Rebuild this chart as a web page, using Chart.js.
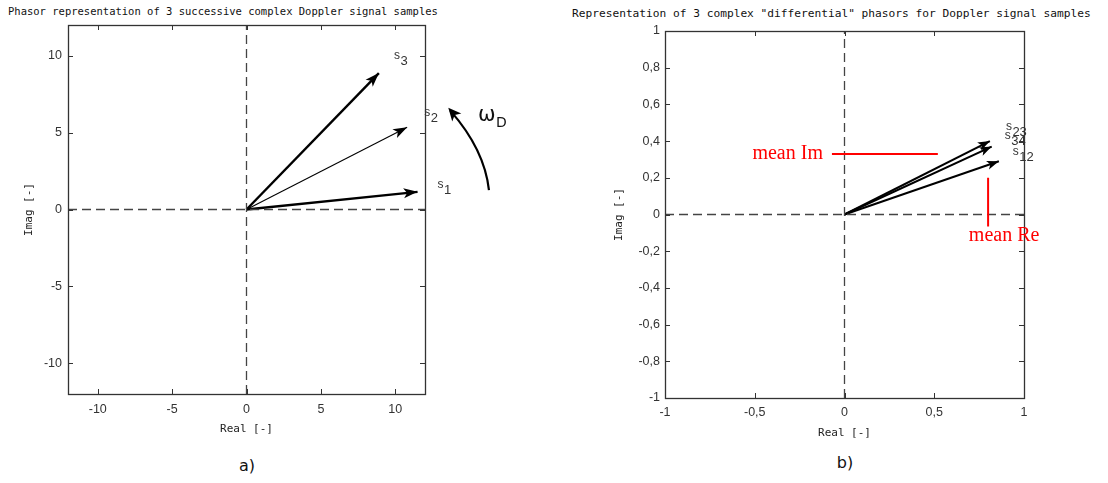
<!DOCTYPE html>
<html><head><meta charset="utf-8">
<script src="https://cdn.jsdelivr.net/npm/chart.js@4.4.1/dist/chart.umd.min.js"></script>
<style>
html,body{margin:0;padding:0;background:#fff;width:1108px;height:483px;overflow:hidden;}
body{position:relative;}
.t{position:absolute;font-family:"DejaVu Sans Mono",monospace;color:#111;white-space:nowrap;line-height:1;}
.cap{position:absolute;font-family:"DejaVu Sans",sans-serif;font-size:16px;color:#111;transform:translateX(-50%);line-height:1;}
canvas{position:absolute;top:0;}
</style></head><body>
<div class="t" style="left:8px;top:6px;font-size:10.5px">Phasor representation of 3 successive complex Doppler signal samples</div>
<div class="t" style="left:572px;top:8px;font-size:11.2px">Representation of 3 complex "differential" phasors for Doppler signal samples</div>
<canvas id="ca" width="540" height="445" style="left:0px"></canvas>
<canvas id="cb" width="548" height="445" style="left:560px"></canvas>
<div class="cap" style="left:247px;top:458px">a)</div>
<div class="cap" style="left:845px;top:455px">b)</div>
<script>
// ---------- data: chart a) ----------
const subA = ['1', '2', '3'];
const reA = [11.5, 10.8, 8.9];
const imA = [1.15, 5.35, 8.87];
const ticksA = [-10, -5, 0, 5, 10];
const rangeA = [-12, 12];
// omega_D rotation arrow (data coords, outside plot)
const omegaArcA = [[16.3, 1.26], [16.0, 3.9], [13.7, 6.43]];

// ---------- data: chart b) ----------
const subB = ['12', '23', '34'];
const reB = [0.86, 0.81, 0.82];
const imB = [0.29, 0.40, 0.37];
const ticksBx = [-1, -0.5, 0, 0.5, 1];
const ticksBy = [-1, -0.8, -0.6, -0.4, -0.2, 0, 0.2, 0.4, 0.6, 0.8, 1];
const rangeB = [-1, 1];
const meanImY = 0.33, meanImX = [-0.07, 0.52];
const meanReX = 0.80, meanReY = [-0.065, 0.2];

// ---------- styles ----------
const lwA = [2.4, 1.1, 2.4];
const lblOffA = [[20, -4], [17, -11], [15, -14]];
const lblOffB = [[14, -6], [16, -11], [13, -8]];
const AX = '#333';
const tickFont = {family: 'Liberation Sans', size: 12.5};
const titleFont = {family: 'DejaVu Sans Mono', size: 11};

function fmt(v) {
  const a = Math.abs(v);
  let s = String(+a.toFixed(2)).replace('.', ',');
  return (v < 0 ? '-' : '') + s;
}

const frame = {
  id: 'frame',
  afterDraw(chart) {
    const {ctx, chartArea: a, scales: {x, y}} = chart;
    ctx.save();
    ctx.strokeStyle = AX; ctx.lineWidth = 1.3;
    ctx.strokeRect(Math.round(a.left) + 0.5, Math.round(a.top) + 0.5, Math.round(a.width), Math.round(a.height));
    ctx.lineWidth = 1;
    ctx.beginPath();
    x.ticks.forEach(t => {
      const p = Math.round(x.getPixelForValue(t.value)) + 0.5;
      ctx.moveTo(p, a.bottom); ctx.lineTo(p, a.bottom - 5);
      ctx.moveTo(p, a.top); ctx.lineTo(p, a.top + 5);
    });
    y.ticks.forEach(t => {
      const p = Math.round(y.getPixelForValue(t.value)) + 0.5;
      ctx.moveTo(a.left, p); ctx.lineTo(a.left + 5, p);
      ctx.moveTo(a.right, p); ctx.lineTo(a.right - 5, p);
    });
    ctx.stroke();
    ctx.restore();
  }
};

function head(ctx, x0, y0, x1, y1, len, w, color) {
  const an = Math.atan2(y1 - y0, x1 - x0);
  ctx.save();
  ctx.translate(x1, y1); ctx.rotate(an);
  ctx.beginPath();
  ctx.moveTo(0, 0); ctx.lineTo(-len, -w); ctx.lineTo(-len * 0.75, 0); ctx.lineTo(-len, w);
  ctx.closePath();
  ctx.fillStyle = color; ctx.fill();
  ctx.restore();
}

const arrows = {
  id: 'arrows',
  afterDatasetsDraw(chart) {
    const ctx = chart.ctx;
    chart.data.datasets.forEach((ds, i) => {
      if (!ds.arrow) return;
      const pts = chart.getDatasetMeta(i).data;
      const p0 = pts[0], p1 = pts[pts.length - 1];
      head(ctx, p0.x, p0.y, p1.x, p1.y, ds.arrow.len, ds.arrow.w, '#000');
      if (ds.label) {
        ctx.save();
        ctx.fillStyle = '#333';
        ctx.textBaseline = 'alphabetic';
        ctx.font = '12px "Liberation Sans"';
        const lx = p1.x + ds.lblOff[0], ly = p1.y + ds.lblOff[1];
        ctx.fillText('s', lx, ly);
        ctx.font = '13px "Liberation Sans"';
        ctx.fillText(ds.sub, lx + 6.5, ly + 6);
        ctx.restore();
      }
    });
  }
};

function dashedAxes(r) {
  const st = {showLine: true, pointRadius: 0, borderColor: '#444', borderWidth: 1.3, borderDash: [9, 5]};
  return [
    Object.assign({data: [{x: r[0], y: 0}, {x: r[1], y: 0}]}, st),
    Object.assign({data: [{x: 0, y: r[0]}, {x: 0, y: r[1]}]}, st)
  ];
}

function scaleCfg(axis, ticks, range, fitSize, titleText, titlePad, tickPad) {
  return {
    type: 'linear', min: range[0], max: range[1],
    afterBuildTicks: s => { s.ticks = ticks.map(v => ({value: v})); },
    afterFit: s => { if (axis === 'x') s.height = fitSize; else s.width = fitSize; },
    grid: {display: false, drawTicks: false, tickLength: 0},
    border: {display: false},
    ticks: {padding: tickPad, font: tickFont, color: '#333', callback: v => fmt(v), maxRotation: 0, autoSkip: false},
    title: {display: true, text: titleText, font: titleFont, color: '#222', padding: titlePad}
  };
}

// ---------- chart a ----------
const omega = {
  id: 'omega',
  afterDraw(chart) {
    const {ctx, scales: {x, y}} = chart;
    const P = omegaArcA.map(p => [x.getPixelForValue(p[0]), y.getPixelForValue(p[1])]);
    ctx.save();
    ctx.strokeStyle = '#000'; ctx.lineWidth = 2.2;
    ctx.beginPath();
    ctx.moveTo(P[0][0], P[0][1]);
    ctx.quadraticCurveTo(P[1][0], P[1][1], P[2][0], P[2][1]);
    ctx.stroke();
    head(ctx, P[1][0], P[1][1], P[2][0] - 2, P[2][1] - 3, 13, 6, '#000');
    ctx.fillStyle = '#111';
    ctx.font = '21px "DejaVu Sans"';
    ctx.fillText('ω', 478, 121);
    ctx.font = '14px "DejaVu Sans"';
    ctx.fillText('D', 496, 127);
    ctx.restore();
  }
};

const dsA = dashedAxes(rangeA);
reA.forEach((re, i) => {
  dsA.push({label: 's' + subA[i], sub: subA[i], lblOff: lblOffA[i], data: [{x: 0, y: 0}, {x: re, y: imA[i]}],
    showLine: true, pointRadius: 0, borderColor: '#000', borderWidth: lwA[i], borderCapStyle: 'butt',
    arrow: {len: 14, w: 5}});
});

new Chart(document.getElementById('ca'), {
  type: 'scatter',
  data: {datasets: dsA},
  options: {
    responsive: false, animation: false, devicePixelRatio: 1,
    layout: {padding: {left: 0, right: 115, top: 25, bottom: 0}},
    plugins: {legend: {display: false}, tooltip: {enabled: false}},
    scales: {
      x: scaleCfg('x', ticksA, rangeA, 51, 'Real [-]', {top: 0, bottom: 9}, 8),
      y: scaleCfg('y', ticksA, rangeA, 68, 'Imag [-]', {top: 23, bottom: 0}, 6)
    }
  },
  plugins: [frame, arrows, omega]
});

// ---------- chart b ----------
const redMarks = {
  id: 'redMarks',
  afterDraw(chart) {
    const {ctx, scales: {x, y}} = chart;
    ctx.save();
    ctx.strokeStyle = '#ff0000'; ctx.lineWidth = 2;
    const yi = y.getPixelForValue(meanImY);
    ctx.beginPath();
    ctx.moveTo(x.getPixelForValue(meanImX[0]), yi); ctx.lineTo(x.getPixelForValue(meanImX[1]), yi);
    const xr = x.getPixelForValue(meanReX);
    ctx.moveTo(xr, y.getPixelForValue(meanReY[0])); ctx.lineTo(xr, y.getPixelForValue(meanReY[1]));
    ctx.stroke();
    ctx.fillStyle = '#ff0000';
    ctx.font = '20px "Liberation Serif"';
    ctx.textBaseline = 'middle';
    ctx.textAlign = 'right';
    ctx.fillText('mean Im', x.getPixelForValue(meanImX[0]) - 9, yi);
    ctx.textAlign = 'center';
    ctx.fillText('mean Re', xr + 16, y.getPixelForValue(meanReY[0]) + 9);
    ctx.restore();
  }
};

const dsB = dashedAxes(rangeB);
reB.forEach((re, i) => {
  dsB.push({label: 's' + subB[i], sub: subB[i], lblOff: lblOffB[i], data: [{x: 0, y: 0}, {x: re, y: imB[i]}],
    showLine: true, pointRadius: 0, borderColor: '#000', borderWidth: 2, borderCapStyle: 'butt',
    arrow: {len: 12, w: 4.5}});
});

new Chart(document.getElementById('cb'), {
  type: 'scatter',
  data: {datasets: dsB},
  options: {
    responsive: false, animation: false, devicePixelRatio: 1,
    layout: {padding: {left: 0, right: 84, top: 31, bottom: 0}},
    plugins: {legend: {display: false}, tooltip: {enabled: false}},
    scales: {
      x: scaleCfg('x', ticksBx, rangeB, 47, 'Real [-]', {top: 0, bottom: 5}, 7),
      y: scaleCfg('y', ticksBy, rangeB, 105, 'Imag [-]', {top: 53, bottom: 0}, 5)
    }
  },
  plugins: [frame, arrows, redMarks]
});
</script>
</body></html>
